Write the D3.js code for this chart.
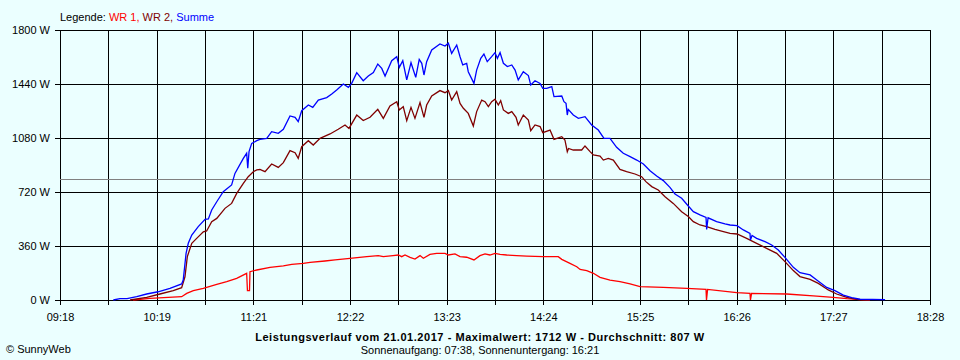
<!DOCTYPE html>
<html><head><meta charset="utf-8">
<script src="https://cdn.jsdelivr.net/npm/d3@7"></script>
<style>
html,body{margin:0;padding:0;background:#ebffff;}
svg{display:block;font-family:"Liberation Sans",Arial,sans-serif;}
</style></head><body>
<svg id="chart" width="960" height="360"></svg>
<script>
// ---- data ----
const xTickLabels = ["09:18","10:19","11:21","12:22","13:23","14:24","15:25","16:26","17:27","18:28"];
const yTicks = [0,360,720,1080,1440,1800];
const dayStartMin = 558;   // 09:18
const dayEndMin = 1108;    // 18:28
const avgW = 807;
const maxW = 1712;

// WR 1 (red): minutes since midnight, watts
const wr1Min = [604.2,614.9,634.9,638.1,642.3,648.6,657.1,663.4,669.7,676.0,
  676.5,677.8,678.1,682.4,690.8,699.2,704.5,711.8,716.1,725.5,
  731.9,741.3,751.9,759.2,762.4,768.5,771.9,774.0,776.1,779.3,
  782.4,785.6,787.7,791.9,796.1,801.4,803.5,807.7,810.9,815.1,
  819.7,823.5,826.7,829.8,833.0,836.2,840.4,846.7,853.0,863.5,
  873.0,875.2,880.4,884.7,886.8,891.0,895.2,899.4,905.7,912.0,
  918.4,924.7,939.4,954.2,966.4,966.7,967.4,985.8,994.2,994.5,
  995.2,1017.4,1034.2,1046.8,1055.4,1063.8,1070.0];
const wr1W = [0,11,22,44,62,78,104,122,144,178,
  62,62,189,200,218,227,238,244,251,260,
  267,278,289,296,289,296,300,289,300,284,
  273,296,278,304,311,311,300,307,289,285,
  267,296,307,300,311,304,300,296,293,289,
  289,271,244,222,204,196,178,151,133,122,
  107,89,84,78,71,0,71,49,44,0,
  44,40,27,18,9,3,0];

// WR 2 (dark red)
const wr2Min = [602.3,612.8,621.2,629.6,634.9,637.0,638.5,641.3,644.4,648.6,
  650.7,653.9,657.1,662.3,666.5,669.7,673.9,677.0,680.2,682.4,
  684.4,687.6,691.8,696.0,699.2,703.4,706.6,708.6,710.8,715.0,
  718.1,722.4,728.7,733.9,738.2,740.7,745.6,749.7,754.0,758.9,
  762.4,766.6,770.9,772.5,775.0,777.2,779.9,782.4,785.6,788.1,
  789.8,793.0,798.2,801.4,803.5,805.6,808.8,810.9,813.0,816.1,
  819.3,821.4,824.6,826.7,828.8,830.9,833.0,835.1,836.6,838.3,
  841.4,843.6,846.3,847.7,850.9,854.1,855.6,858.3,861.5,863.2,
  867.8,870.3,875.2,877.2,878.7,879.5,882.5,887.8,889.9,893.1,
  895.2,899.4,901.5,904.6,907.8,912.0,916.2,921.5,925.7,928.4,
  932.1,936.2,940.5,945.7,951.0,955.2,958.4,962.6,966.8,972.1,
  977.4,981.6,986.0,992.1,998.4,1004.7,1011.1,1016.3,1021.6,1025.8,
  1032.2,1037.4,1043.7,1049.0,1055.4,1061.7,1070.1];
const wr2W = [0,18,40,62,82,155,289,378,411,455,
  460,522,544,611,644,711,778,822,855,867,
  870,856,907,884,916,996,982,944,1022,1062,
  1033,1078,1107,1138,1167,1144,1233,1196,1218,1271,
  1211,1293,1322,1267,1289,1196,1284,1211,1316,1218,
  1300,1360,1396,1382,1396,1333,1389,1311,1278,1244,
  1160,1256,1333,1322,1289,1322,1338,1300,1329,1267,
  1244,1256,1218,1167,1233,1200,1129,1167,1156,1116,
  1133,1071,1089,1067,989,1010,1000,1000,1027,989,
  967,960,933,944,933,871,856,840,822,789,
  756,733,689,644,589,556,522,500,489,471,
  456,444,440,411,378,344,311,256,196,156,
  138,111,67,40,18,4,0];

// Summe (blue)
const sumMin = [591.7,595.9,600.4,606.5,612.8,620.0,627.5,634.9,635.9,637.7,
  639.1,641.3,645.4,649.7,651.8,653.9,657.1,661.2,666.5,668.6,
  673.9,676.0,676.7,677.5,679.2,682.4,684.4,688.7,691.8,696.0,
  699.2,703.4,706.6,708.6,710.8,715.0,717.8,721.3,726.6,729.8,
  732.9,737.1,740.3,742.4,745.6,749.7,752.9,756.1,758.9,761.4,
  763.5,767.7,770.9,772.5,774.7,777.2,779.9,782.9,785.1,786.7,
  788.1,789.8,793.0,798.2,801.4,803.5,805.6,808.8,810.9,812.6,
  815.1,816.1,819.7,821.4,824.0,826.0,828.1,830.9,833.0,834.5,
  836.2,838.3,840.8,843.6,845.7,847.7,850.9,854.1,855.6,858.3,
  861.5,863.2,865.7,868.9,870.3,875.2,876.6,877.9,878.7,879.3,
  882.5,885.7,889.9,894.1,898.3,901.9,905.7,909.9,914.1,918.4,
  922.6,926.8,931.0,935.2,939.4,943.6,946.8,951.0,955.2,958.4,
  962.6,966.4,966.8,967.7,973.1,978.4,981.6,986.0,990.0,994.2,
  994.5,995.5,998.4,1003.7,1007.9,1012.1,1016.3,1021.6,1025.8,1032.2,
  1036.4,1042.7,1047.9,1053.2,1058.5,1063.8,1079.6];
const sumW = [0,9,9,22,40,55,78,107,133,311,
  378,433,489,538,540,600,655,722,767,844,
  944,978,878,989,1044,1062,1071,1078,1122,1111,
  1138,1227,1218,1189,1262,1300,1284,1333,1349,1373,
  1400,1440,1418,1444,1516,1462,1493,1516,1573,1544,
  1493,1595,1622,1551,1595,1467,1582,1484,1604,1578,
  1500,1589,1667,1707,1693,1712,1644,1700,1622,1567,
  1578,1522,1444,1533,1611,1640,1589,1622,1649,1611,
  1649,1578,1556,1567,1533,1467,1522,1496,1433,1462,
  1444,1411,1411,1422,1356,1360,1322,1311,1233,1271,
  1233,1211,1222,1167,1133,1078,1078,1018,978,956,
  933,907,862,827,796,751,707,678,627,589,
  567,551,471,548,522,507,500,496,467,444,
  400,430,411,389,367,333,284,218,182,167,
  133,84,62,33,16,5,3];

const legendItems = [
  {label:"WR 1, ", color:"#ff0000"},
  {label:"WR 2, ", color:"#800000"},
  {label:"Summe", color:"#0000ff"}
];
const titleText = "Leistungsverlauf vom 21.01.2017 - Maximalwert: " + maxW + " W - Durchschnitt: " + avgW + " W";
const subTitleText = "Sonnenaufgang: 07:38, Sonnenuntergang: 16:21";

// ---- chart ----
const FONT = "'Liberation Sans', Arial, sans-serif";
const svg = d3.select("#chart");
svg.append("rect").attr("width",960).attr("height",360).attr("fill","#ebffff");

const x = d3.scaleLinear().domain([dayStartMin, dayEndMin]).range([60, 930]);
const y = d3.scaleLinear().domain([0, 1800]).range([300, 30]);

const nStep = 18;
const xTickVals = d3.range(nStep + 1).map(i => dayStartMin + i * (dayEndMin - dayStartMin) / nStep);

// horizontal grid + y labels
svg.append("g")
  .attr("transform", "translate(930,0)")
  .call(d3.axisLeft(y).tickValues(yTicks).tickSize(875).tickSizeOuter(0).tickPadding(5).tickFormat(d => d + " W"))
  .call(g => g.select(".domain").remove())
  .call(g => g.selectAll("line").attr("stroke", "#000").attr("shape-rendering","crispEdges"))
  .call(g => g.selectAll("text").attr("fill", "#000"))
  .attr("font-size", 11).attr("font-family", FONT);

// vertical grid + x labels
svg.append("g")
  .attr("transform", "translate(0,30)")
  .call(d3.axisBottom(x).tickValues(xTickVals).tickSize(275).tickSizeOuter(0).tickPadding(8)
        .tickFormat((d, i) => i % 2 === 0 ? xTickLabels[i / 2] : ""))
  .call(g => g.select(".domain").remove())
  .call(g => g.selectAll("line").attr("stroke", "#000").attr("shape-rendering","crispEdges"))
  .call(g => g.selectAll("text").attr("fill", "#000"))
  .attr("font-size", 11).attr("font-family", FONT);

// average line
svg.append("line")
  .attr("x1", x(dayStartMin)).attr("x2", x(dayEndMin))
  .attr("y1", Math.round(y(avgW)) + 0.5).attr("y2", Math.round(y(avgW)) + 0.5)
  .attr("stroke", "#808080").attr("shape-rendering","crispEdges");

const line = d3.line().x(d => x(d[0])).y(d => y(d[1]));
const series = [
  {t: wr1Min, v: wr1W, color: "#ff0000"},
  {t: wr2Min, v: wr2W, color: "#800000"},
  {t: sumMin, v: sumW, color: "#0000ff"}
];
series.forEach(s => {
  svg.append("path")
    .datum(d3.zip(s.t, s.v))
    .attr("d", line)
    .attr("fill", "none")
    .attr("stroke", s.color)
    .attr("stroke-width", 1.3)
    .attr("stroke-linejoin", "miter");
});

// legend
const leg = svg.append("text").attr("x", 60).attr("y", 21)
  .attr("font-size", 11).attr("font-family", FONT).attr("fill", "#000");
leg.append("tspan").text("Legende: ");
legendItems.forEach(it => leg.append("tspan").attr("fill", it.color).text(it.label));

// titles
svg.append("text").attr("x", 480).attr("y", 341).attr("text-anchor", "middle")
  .attr("font-size", 11).attr("font-weight", "bold").attr("letter-spacing", 0.55)
  .attr("font-family", FONT).attr("fill", "#000")
  .text(titleText);
svg.append("text").attr("x", 480).attr("y", 354).attr("text-anchor", "middle")
  .attr("font-size", 11).attr("font-family", FONT).attr("fill", "#000")
  .text(subTitleText);
svg.append("text").attr("x", 6).attr("y", 353)
  .attr("font-size", 11).attr("font-family", FONT).attr("fill", "#000")
  .text("© SunnyWeb");
</script>
</body></html>
